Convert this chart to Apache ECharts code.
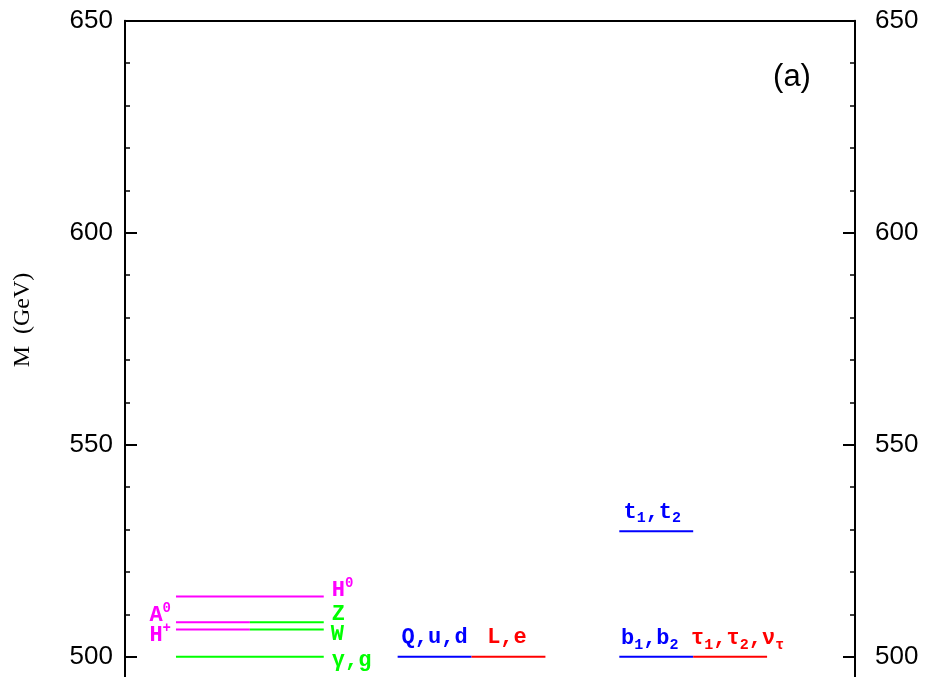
<!DOCTYPE html>
<html>
<head>
<meta charset="utf-8">
<script src="https://cdn.jsdelivr.net/npm/echarts@6/dist/echarts.min.js"></script>
<style>
  html, body { margin: 0; padding: 0; background: #fff; }
  #chart { width: 928px; height: 677px; }
</style>
</head>
<body>
<div id="chart"></div>
<script>
// ---- data ----
const levelNames = ['H0', 'A0', 'H+', 'Z', 'W', 'γ,g', 'Q,u,d', 'L,e', 't1,t2', 'b1,b2', 'τ1,τ2,ντ'];
const levelLabels = ['H{sup|0}', 'A{sup|0}', 'H{sup|+}', 'Z', 'W', 'γ,g', 'Q,u,d', 'L,e',
                     't{sub|1},t{sub|2}', 'b{sub|1},b{sub|2}', 'τ{sub|1},τ{sub|2},ν{sub|τ}'];
const columnStart = [0, 0, 0, 1, 1, 0, 3, 4, 6, 6, 7];
const columnEnd   = [2, 1, 1, 2, 2, 2, 4, 5, 7, 7, 8];
const masses      = [514.2, 508.1, 506.4, 508.1, 506.4, 500.0, 500.0, 500.0, 529.6, 500.0, 500.0];
const groups      = ['higgs', 'higgs', 'higgs', 'gauge', 'gauge', 'gauge', 'squark', 'slepton', 'squark', 'squark', 'slepton'];
const yMajorTicks = [500, 550, 600, 650];
const yMinorTicks = [510, 520, 530, 540, 560, 570, 580, 590, 610, 620, 630, 640];
const panelTag = '(a)';
const yTitle = 'M  (GeV)';

// ---- styles ----
const groupColors = { higgs: '#ff00ff', gauge: '#00ff00', squark: '#0000ff', slepton: '#ff0000' };
// label placement: side, dx, dy (pixels)
const labelPlace = [
  ['right', 8, -6], ['left', -5, -7], ['left', -5, 5.5], ['right', 8, -7.5], ['right', 7, 4.5],
  ['right', 8, 3.5], ['top', 0, -19], ['top', -1.5, -19], ['top', -4, -19], ['top', -6.5, -18], ['top', 7.5, -18]
];

const seriesData = levelNames.map((n, i) => [columnStart[i], columnEnd[i], masses[i], i]);

const chart = echarts.init(document.getElementById('chart'), null, { renderer: 'canvas' });

const tickFont = 'Liberation Sans';
const labFont = 'Liberation Mono';
const Y_MIN = 495.2, Y_MAX = 650;

function majorAxis(pos, margin) {
  return {
    type: 'value', position: pos, min: Y_MIN, max: Y_MAX,
    axisLine: { show: true, onZero: false, lineStyle: { color: '#000', width: 2 } },
    axisTick: { show: true, inside: true, length: 12, customValues: yMajorTicks, lineStyle: { color: '#000', width: 2 } },
    splitLine: { show: false },
    axisLabel: { show: true, margin: margin, customValues: yMajorTicks, color: '#000', fontFamily: tickFont, fontSize: 26 }
  };
}
function minorAxis(pos) {
  return {
    type: 'value', position: pos, min: Y_MIN, max: Y_MAX,
    axisLine: { show: false, onZero: false },
    axisTick: { show: true, inside: true, length: 5, customValues: yMinorTicks, lineStyle: { color: '#000', width: 1.5 } },
    splitLine: { show: false },
    axisLabel: { show: false }
  };
}

chart.setOption({
  animation: false,
  backgroundColor: '#fff',
  grid: { left: 125, right: 73, top: 20.7, bottom: 0, containLabel: false },
  xAxis: {
    type: 'value', position: 'top', min: -0.69, max: 9.19,
    axisLine: { show: true, onZero: false, lineStyle: { color: '#000', width: 2 } },
    axisTick: { show: false }, axisLabel: { show: false }, splitLine: { show: false }
  },
  yAxis: [majorAxis('left', 12), majorAxis('right', 20), minorAxis('left'), minorAxis('right')],
  graphic: [
    {
      type: 'text', x: 23, y: 320, rotation: Math.PI / 2,
      style: { text: yTitle, fontFamily: 'Liberation Serif', fontSize: 24, fill: '#000', align: 'center', verticalAlign: 'middle' }
    },
    {
      type: 'text', x: 792, y: 77,
      style: { text: panelTag, fontFamily: tickFont, fontSize: 31, fill: '#000', align: 'center', verticalAlign: 'middle' }
    }
  ],
  series: [{
    type: 'custom',
    data: seriesData,
    clip: false,
    renderItem: function (params, api) {
      const i = api.value(3);
      const p0 = api.coord([api.value(0), api.value(2)]);
      const p1 = api.coord([api.value(1), api.value(2)]);
      const color = groupColors[groups[i]];
      const pl = labelPlace[i];
      let tx, ty, align;
      if (pl[0] === 'right') { tx = p1[0] + pl[1]; ty = p1[1] + pl[2]; align = 'left'; }
      else if (pl[0] === 'left') { tx = p0[0] + pl[1]; ty = p0[1] + pl[2]; align = 'right'; }
      else { tx = (p0[0] + p1[0]) / 2 + pl[1]; ty = p0[1] + pl[2]; align = 'center'; }
      return {
        type: 'group',
        children: [
          { type: 'line', shape: { x1: p0[0], y1: p0[1], x2: p1[0], y2: p1[1] },
            style: { stroke: color, lineWidth: 2 } },
          { type: 'text', x: tx, y: ty,
            style: {
              text: levelLabels[i], fill: color, fontFamily: labFont, fontWeight: 'bold', fontSize: 22,
              lineHeight: 28, align: align, verticalAlign: 'middle',
              rich: {
                sub: { fontFamily: labFont, fontWeight: 'bold', fontSize: 15, lineHeight: 16, verticalAlign: 'bottom', fill: color },
                sup: { fontFamily: labFont, fontWeight: 'bold', fontSize: 14, lineHeight: 18, verticalAlign: 'top', fill: color }
              }
            } }
        ]
      };
    }
  }]
});
</script>
</body>
</html>
